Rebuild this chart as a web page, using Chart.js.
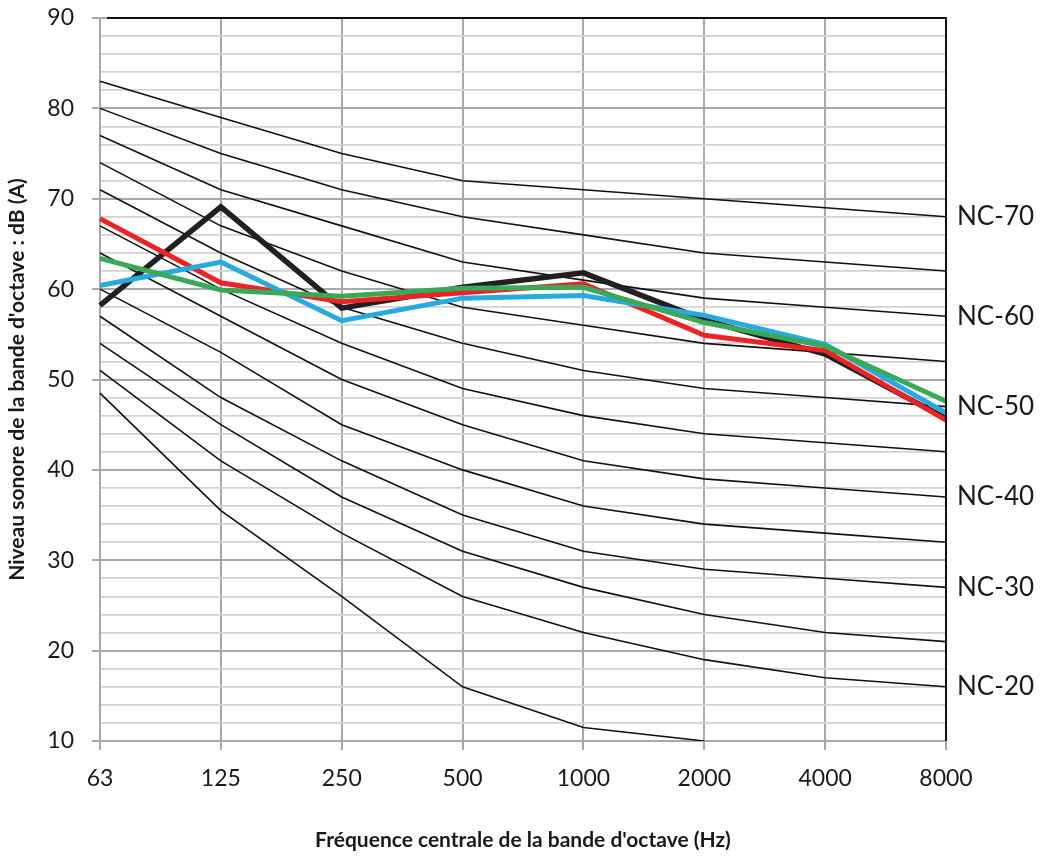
<!DOCTYPE html>
<html>
<head>
<meta charset="utf-8">
<script src="https://cdn.jsdelivr.net/npm/chart.js@4.4.1/dist/chart.umd.min.js"></script>
<style>
  html, body { margin: 0; padding: 0; background: #fff; }
  canvas { display: block; }
</style>
</head>
<body>
<canvas id="nc" width="1042" height="857"></canvas>
<script>
// bandes d'octave
const frequencies = ['63', '125', '250', '500', '1000', '2000', '4000', '8000'];

// courbes NC
const nc70 = [83, 79, 75, 72, 71, 70, 69, 68];
const nc65 = [80, 75, 71, 68, 66, 64, 63, 62];
const nc60 = [77, 71, 67, 63, 61, 59, 58, 57];
const nc55 = [74, 67, 62, 58, 56, 54, 53, 52];
const nc50 = [71, 64, 58, 54, 51, 49, 48, 47];
const nc45 = [67, 60, 54, 49, 46, 44, 43, 42];
const nc40 = [64, 57, 50, 45, 41, 39, 38, 37];
const nc35 = [60, 53, 45, 40, 36, 34, 33, 32];
const nc30 = [57, 48, 41, 35, 31, 29, 28, 27];
const nc25 = [54, 45, 37, 31, 27, 24, 22, 21];
const nc20 = [51, 41, 33, 26, 22, 19, 17, 16];
const nc15 = [48.5, 35.5, 26, 16, 11.5, 10, null, null];

const ncCurves = [nc70, nc65, nc60, nc55, nc50, nc45, nc40, nc35, nc30, nc25, nc20, nc15];
const ncNames  = ['NC-70', '', 'NC-60', '', 'NC-50', '', 'NC-40', '', 'NC-30', '', 'NC-20', ''];

// mesures
const mesureNoire = [58.2, 69.1, 57.9, 60.2, 61.8, 56.6, 52.8, 45.7];
const mesureRouge = [67.8, 60.7, 58.6, 59.6, 60.6, 54.9, 53.2, 45.5];
const mesureBleue = [60.4, 63.0, 56.5, 59.0, 59.3, 57.1, 53.9, 46.3];
const mesureVerte = [63.4, 59.9, 59.2, 60.1, 60.2, 56.3, 53.7, 47.6];

Chart.defaults.font.family = "Lato, 'Open Sans', sans-serif";
Chart.defaults.color = '#1a1a1a';

const datasets = [];
ncCurves.forEach((c, i) => {
  datasets.push({
    label: ncNames[i] || ('nc' + i),
    data: c,
    borderColor: '#111',
    borderWidth: 1.6,
    pointRadius: 0,
    tension: 0,
    order: 10,
    nc: ncNames[i]
  });
});
datasets.push({ label: 'noir', data: mesureNoire, borderColor: '#231f20', borderWidth: 5.5, pointRadius: 0, order: 4 });
datasets.push({ label: 'rouge', data: mesureRouge, borderColor: '#ed2224', borderWidth: 5, pointRadius: 0, order: 3 });
datasets.push({ label: 'bleu', data: mesureBleue, borderColor: '#27a9e1', borderWidth: 5, pointRadius: 0, order: 2 });
datasets.push({ label: 'vert', data: mesureVerte, borderColor: '#3aa957', borderWidth: 5, pointRadius: 0, order: 1 });

// cadre noir en haut et a droite + etiquettes NC
const cadre = {
  id: 'cadre',
  afterDatasetsDraw(chart) {
    const { ctx, chartArea: a } = chart;
    ctx.save();
    ctx.strokeStyle = '#111';
    ctx.lineWidth = 2;
    ctx.beginPath();
    ctx.moveTo(a.left + 7, a.top);
    ctx.lineTo(a.right, a.top);
    ctx.lineTo(a.right, a.bottom);
    ctx.stroke();

    const y = chart.scales.y;
    ctx.fillStyle = '#1a1a1a';
    ctx.font = "26px Lato, 'Open Sans', sans-serif";
    ctx.textBaseline = 'middle';
    chart.data.datasets.forEach(ds => {
      if (!ds.nc) return;
      const last = ds.data[ds.data.length - 1];
      ctx.fillText(ds.nc, a.right + 11, y.getPixelForValue(last));
    });
    ctx.restore();
  }
};

new Chart(document.getElementById('nc'), {
  type: 'line',
  data: { labels: frequencies, datasets: datasets },
  options: {
    responsive: false,
    animation: false,
    layout: { padding: { top: 18, right: 96, left: 0, bottom: 0 } },
    plugins: { legend: { display: false }, tooltip: { enabled: false } },
    scales: {
      x: {
        offset: false,
        grid: { color: '#a8a8a8', lineWidth: 2, tickLength: 9 },
        border: { color: '#a8a8a8', width: 2 },
        ticks: { font: { size: 23 }, padding: 15, color: '#1a1a1a' },
        title: {
          display: true,
          text: "Fréquence centrale de la bande d'octave (Hz)",
          font: { size: 21, weight: 'bold' },
          padding: { top: 0, bottom: 4 }
        },
        afterFit(s) { s.height = 116; }
      },
      y: {
        min: 10,
        max: 90,
        grid: {
          color: c => (c.tick && c.tick.value % 10 === 0) ? '#a8a8a8' : '#d2d2d2',
          lineWidth: c => (c.tick && c.tick.value % 10 === 0) ? 2 : 1.8,
          tickColor: c => (c.tick && c.tick.value % 10 === 0) ? '#a8a8a8' : 'rgba(0,0,0,0)',
          tickLength: 8
        },
        border: { color: '#a8a8a8', width: 2 },
        ticks: {
          stepSize: 2,
          autoSkip: false,
          font: { size: 23 },
          padding: 18,
          color: '#1a1a1a',
          callback: v => (v % 10 === 0 ? v : '')
        },
        title: {
          display: true,
          text: "Niveau sonore de la bande d'octave : dB (A)",
          font: { size: 21, weight: 'bold' },
          padding: { top: 5, bottom: 0 }
        },
        afterFit(s) {
          s.width = 100;
          s.paddingTop = 0;
          s.paddingBottom = 0;
        }
      }
    }
  },
  plugins: [cadre]
});
</script>
</body>
</html>
